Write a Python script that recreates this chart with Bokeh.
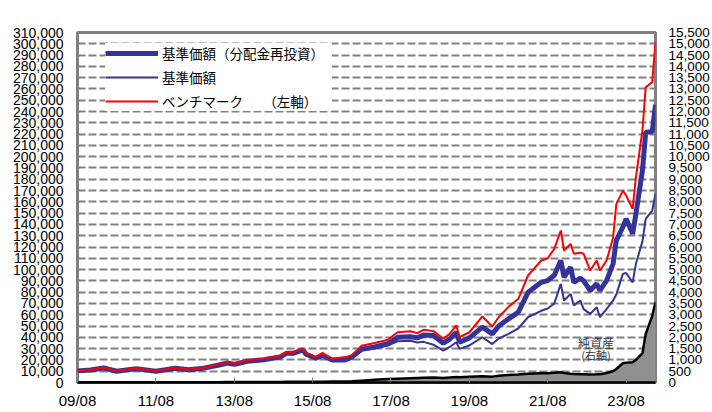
from bokeh.plotting import figure
from bokeh.models import (Range1d, LinearAxis, FixedTicker, NumeralTickFormatter,
                          Legend, LegendItem, Label)
from bokeh.embed import file_html
from bokeh.resources import INLINE

months = ["2009/08", "2009/12", "2010/04", "2010/08", "2011/02", "2011/08", "2012/02", "2012/06", "2012/10", "2013/03",
          "2013/06", "2013/08", "2013/12", "2014/05", "2014/10", "2014/12", "2015/02", "2015/05", "2015/06", "2015/09",
          "2015/11", "2016/02", "2016/06", "2016/08", "2016/11", "2017/03", "2017/07", "2017/10", "2018/02", "2018/04",
          "2018/06", "2018/09", "2018/12", "2019/02", "2019/04", "2019/05", "2019/08", "2019/12", "2020/03", "2020/05",
          "2020/08", "2020/11", "2021/02", "2021/06", "2021/08", "2021/10", "2021/12", "2022/01", "2022/03", "2022/04",
          "2022/06", "2022/07", "2022/09", "2022/11", "2022/12", "2023/02", "2023/04", "2023/05", "2023/07", "2023/08",
          "2023/10", "2023/11", "2024/01", "2024/02", "2024/04", "2024/05"]

nav_reinvested = [10300, 11000, 12800, 10000, 12300, 10000, 12600, 11300, 12300, 15300,
                  17300, 16000, 18800, 20200, 22600, 25800, 25800, 28800, 25000, 21500,
                  24000, 20000, 20000, 22500, 29500, 31500, 34300, 40000, 40500, 39500,
                  42000, 41600, 34800, 38500, 44500, 35700, 39500, 49000, 43100, 50000,
                  56400, 62300, 80000, 88700, 90300, 95000, 108000, 93300, 102100, 88700,
                  92500, 90000, 81500, 87400, 81500, 90300, 105100, 125800, 137600, 145000,
                  131700, 149400, 187800, 221700, 222000, 246000]

nav = [10300, 11000, 12800, 10000, 12300, 10000, 12500, 11200, 12200, 15100,
       17100, 15800, 18500, 19900, 22200, 25300, 25300, 28200, 24500, 21000,
       23400, 19500, 19400, 21800, 28500, 30000, 32800, 36500, 37000, 35500,
       36000, 33500, 28300, 31500, 35700, 29800, 32800, 40100, 34000, 39000,
       43000, 48000, 58000, 63500, 65500, 70000, 87400, 72600, 78500, 68200,
       72600, 65000, 60800, 66700, 57800, 65000, 72600, 78000, 96200, 97000,
       88700, 105100, 125000, 145000, 152300, 167000]

benchmark = [10500, 11300, 13200, 10300, 12700, 10300, 13000, 11600, 12700, 15900,
             18000, 16600, 19600, 21000, 23500, 26800, 26800, 30000, 26000, 22400,
             26200, 21000, 22500, 24000, 32500, 35000, 37800, 44500, 45400, 43700,
             46700, 45500, 38700, 43100, 50500, 40100, 44500, 58500, 49600, 58000,
             67000, 74100, 95000, 108000, 110000, 118400, 134600, 116900, 122800, 114000,
             115000, 114000, 99200, 108000, 99200, 108000, 128000, 158000, 170000, 165600,
             153800, 181900, 223200, 261600, 266000, 302000]

net_assets = [5, 5, 8, 8, 10, 10, 10, 10, 12, 15,
              18, 18, 20, 22, 25, 28, 30, 32, 32, 32,
              35, 40, 45, 50, 80, 120, 150, 170, 190, 200,
              210, 220, 200, 220, 240, 230, 260, 280, 260, 300,
              330, 350, 390, 410, 415, 430, 456, 420, 390, 380,
              370, 365, 350, 360, 370, 420, 500, 600, 850, 880,
              900, 1000, 1300, 2150, 2950, 3550]

tick_months = ["2009/08", "2011/08", "2013/08", "2015/08", "2017/08", "2019/08", "2021/08", "2023/08"]
tick_labels = ["09/08", "11/08", "13/08", "15/08", "17/08", "19/08", "21/08", "23/08"]
left_ticks = list(range(0, 310001, 10000))
right_ticks = list(range(0, 15501, 500))
grid_ticks = list(range(10000, 300001, 10000))

series_names = ["基準価額（分配金再投資）", "基準価額", "ベンチマーク　　（左軸）"]


def month_index(s):
    y, m = s.split("/")
    return (int(y) - 2009) * 12 + (int(m) - 8)


x = [month_index(d) for d in months]
tx = [month_index(d) for d in tick_months]

p = figure(width=712, height=412, output_backend="svg", toolbar_location=None,
           x_range=Range1d(0, month_index(months[-1])), y_range=Range1d(0, 310000),
           min_border_left=77, min_border_right=55, min_border_top=32, min_border_bottom=30)
p.extra_y_ranges = {"assets": Range1d(0, 15500)}
p.background_fill_color = "white"
p.border_fill_color = "white"
p.outline_line_color = "#808080"
p.outline_line_width = 3

# grid
p.xgrid.visible = False
p.ygrid.ticker = FixedTicker(ticks=grid_ticks)
p.ygrid.grid_line_color = "#808080"
p.ygrid.grid_line_width = 2
p.ygrid.grid_line_dash = "8 3"

# left axis
ya = p.yaxis[0]
ya.ticker = FixedTicker(ticks=left_ticks)
ya.formatter = NumeralTickFormatter(format="0,0")
ya.major_label_text_font = "Liberation Sans"
ya.major_label_text_font_size = "14px"
ya.major_label_text_color = "black"
ya.major_label_standoff = 14
ya.major_tick_in = 0
ya.major_tick_out = 0
ya.minor_tick_line_color = None
ya.axis_line_color = None

# right axis
ra = LinearAxis(y_range_name="assets", ticker=FixedTicker(ticks=right_ticks),
                formatter=NumeralTickFormatter(format="0,0"))
ra.major_label_text_font = "Liberation Sans"
ra.major_label_text_font_size = "13.5px"
ra.major_label_text_color = "black"
ra.major_label_standoff = 13
ra.major_tick_in = 0
ra.major_tick_out = 0
ra.minor_tick_line_color = None
ra.axis_line_color = None
p.add_layout(ra, "right")

# bottom axis
xa = p.xaxis[0]
xa.ticker = FixedTicker(ticks=tx)
xa.major_label_overrides = {t: l for t, l in zip(tx, tick_labels)}
xa.major_label_text_font = "Liberation Sans"
xa.major_label_text_font_size = "15px"
xa.major_label_text_color = "black"
xa.major_label_standoff = 9
xa.major_tick_in = 5
xa.major_tick_out = 0
xa.major_tick_line_color = "#808080"
xa.minor_tick_line_color = None
xa.axis_line_color = "black"
xa.axis_line_width = 2.5

# net assets (right axis)
p.varea(x=x, y1=[0] * len(x), y2=net_assets, y_range_name="assets", fill_color="#909090")
p.line(x, net_assets, y_range_name="assets", line_color="black", line_width=2.5)

r_nav = p.line(x, nav, line_color="#333399", line_width=2)
r_reinv = p.line(x, nav_reinvested, line_color="#333399", line_width=5)
r_bm = p.line(x, benchmark, line_color="#FF0000", line_width=2)

legend = Legend(items=[LegendItem(label=series_names[0], renderers=[r_reinv]),
                       LegendItem(label=series_names[1], renderers=[r_nav]),
                       LegendItem(label=series_names[2], renderers=[r_bm])],
                location=(28, 271))
legend.label_text_font = "Noto Sans CJK JP"
legend.label_text_font_size = "13.5px"
legend.label_text_color = "black"
legend.glyph_width = 53
legend.glyph_height = 20
legend.label_height = 20
legend.label_width = 170
legend.label_standoff = 4
legend.spacing = 4
legend.padding = 10
legend.margin = 0
legend.border_line_color = None
legend.background_fill_color = "white"
legend.background_fill_alpha = 1.0
p.add_layout(legend)

p.add_layout(Label(x=158.8, y=35700, text="純資産", text_align="center", text_baseline="middle",
                   text_font="Noto Sans CJK JP", text_font_size="12px", text_color="#333333"))
p.add_layout(Label(x=158.8, y=24800, text="(右軸)", text_align="center", text_baseline="middle",
                   text_font="Noto Sans CJK JP", text_font_size="11px", text_color="#333333"))
p.add_layout(Label(x=587, y=367, x_units="screen", y_units="screen", text="（億円）",
                   text_align="center", text_baseline="middle",
                   text_font="Noto Sans CJK JP", text_font_size="13px", text_color="black"))

open("out.html", "w").write(file_html(p, INLINE))
